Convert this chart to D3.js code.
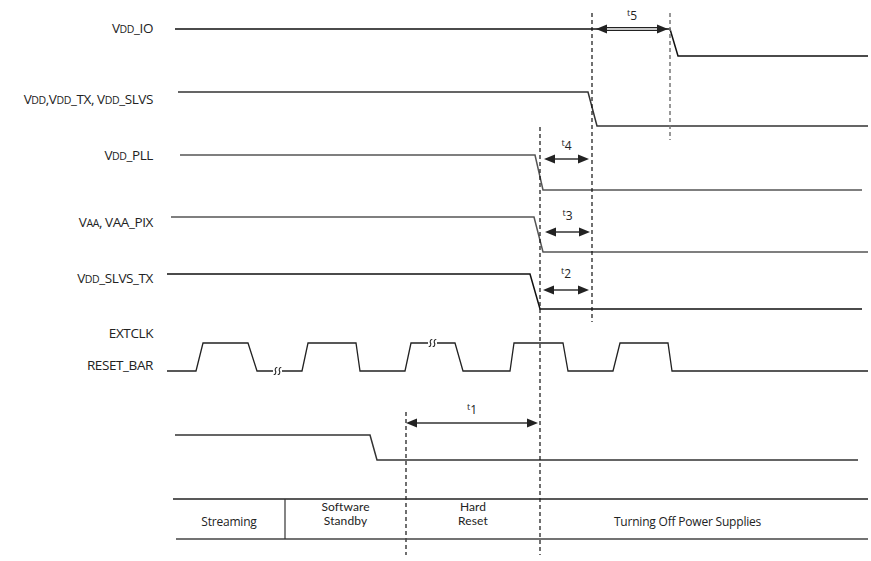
<!DOCTYPE html>
<html><head><meta charset="utf-8">
<script src="https://cdn.jsdelivr.net/npm/d3@7"></script>
<style>body{margin:0;background:#fff}svg{display:block}</style>
</head><body>
<svg id="c" width="871" height="561"></svg>
<script>
// ---- data (time units) ----
const signalNames = [["V","DD","_IO"],["V","DD",",V","DD","_TX, V","DD","_SLVS"],["V","DD","_PLL"],["V","AA",", VAA_PIX"],["V","DD","_SLVS_TX"]];
const signalStart = [8, 11, 13, 4, 0];
const fallStart   = [503, 421, 368, 367, 363];
const fallEnd     = [511, 430, 376, 376, 373];
const signalEnd   = [701, 701, 695, 701, 695];
const clockT = [0,29,36,81,90,106,"B",115,135,141,189,193,238,244,261,"B",270,288,296,343,347,396,401,446,453,501,505,701];
const clockL = [0,0,1,1,0,0,"B",0,0,1,1,0,0,1,1,"B",1,1,0,0,1,1,0,0,1,1,0,0];
const resetT = [8, 203, 210, 691];
const resetL = [1, 1, 0, 0];
const markerT = [239, 373, 425, 503];
const arrows = [{n:"1",a:239,b:371},{n:"2",a:376,b:422},{n:"3",a:378,b:423},{n:"4",a:377,b:422},{n:"5",a:429,b:501}];
const phaseNames = [["Streaming"],["Software","Standby"],["Hard","Reset"],["Turning Off Power Supplies"]];
const phaseBounds = [6, 118, 239, 373, 668];

// ---- layout ----
const svg = d3.select("#c");
const x = d3.scaleLinear().domain([0,700]).range([167,867]);
const rowHigh = [29, 92, 155, 217, 274];
const rowLow  = [56, 126, 190, 252, 309];
const rowLabelY = [33, 104, 160, 227, 283];
const rowColor = ["#111","#333","#555","#555","#111"];
const font = "'Open Sans', sans-serif";
const labSize = 13.5, labSmall = 10.5;

const line = d3.line().x(d=>x(d[0])).y(d=>d[1]);

signalNames.forEach((parts,i)=>{
  const y = d3.scaleLinear().domain([0,1]).range([rowLow[i], rowHigh[i]]);
  const pts = [[signalStart[i],1],[fallStart[i],1],[fallEnd[i],0],[signalEnd[i],0]].map(p=>[p[0],y(p[1])]);
  svg.append("path").attr("d",line(pts)).attr("fill","none").attr("stroke",rowColor[i]).attr("stroke-width",1.5);
  const t = svg.append("text").attr("x",153).attr("y",rowLabelY[i]).attr("text-anchor","end")
    .attr("font-family",font).attr("font-size",labSize).attr("fill","#222").attr("letter-spacing",-0.4);
  parts.forEach(p=>{
    const small = (p==="DD"||p==="AA");
    t.append("tspan").attr("font-size", small?labSmall:labSize).text(p);
  });
});

// other labels
svg.append("text").attr("x",153).attr("y",338).attr("text-anchor","end").attr("font-family",font).attr("font-size",labSize).attr("letter-spacing",-0.4).attr("fill","#222").text("EXTCLK");
svg.append("text").attr("x",153).attr("y",370).attr("text-anchor","end").attr("font-family",font).attr("font-size",labSize).attr("letter-spacing",-0.4).attr("fill","#222").text("RESET_BAR");

// clock
const yc = d3.scaleLinear().domain([0,1]).range([371,343]);
let seg = [];
const segs = [];
clockT.forEach((t,i)=>{
  if (t==="B") { segs.push(seg); seg=[]; return; }
  seg.push([t, yc(clockL[i])]);
});
segs.push(seg);
segs.forEach(s=>svg.append("path").attr("d",line(s)).attr("fill","none").attr("stroke","#222").attr("stroke-width",1.3));
// break marks (small "ss")
const breaks = [];
clockT.forEach((t,i)=>{ if(t==="B") breaks.push([(clockT[i-1]+clockT[i+1])/2, yc(clockL[i-1])]); });
breaks.forEach(b=>{
  const cx = x(b[0]), cy=b[1];
  [-2,2].forEach(dx=>{
    const sx = cx+dx;
    svg.append("path").attr("d",`M${sx-1.8},${cy+3.5} C${sx+0.5},${cy+4} ${sx+0.5},${cy+0.5} ${sx},${cy} C${sx-0.5},${cy-0.5} ${sx-0.5},${cy-4} ${sx+1.8},${cy-3.5}`)
      .attr("fill","none").attr("stroke","#222").attr("stroke-width",1.1);
  });
});

// reset bar
const yr = d3.scaleLinear().domain([0,1]).range([460,435]);
svg.append("path").attr("d",line(resetT.map((t,i)=>[t,yr(resetL[i])]))).attr("fill","none").attr("stroke","#333").attr("stroke-width",1.5);

// dashed markers
const markerY = [[412,555],[127,555],[13,322],[13,140]];
markerT.forEach((t,i)=>{
  svg.append("line").attr("x1",x(t)).attr("x2",x(t)).attr("y1",markerY[i][0]).attr("y2",markerY[i][1])
    .attr("stroke", i===3?"#777":"#111").attr("stroke-width", i===3?1.5:1.2).attr("stroke-dasharray","4,3");
});

// arrows
const arrowY = [423, 290, 232, 159, 29];
const arrowLabY = [414, 278, 220, 150, 20];
function head(px, py, dir){
  svg.append("path").attr("d",`M${px},${py} L${px-dir*11},${py-4.5} L${px-dir*11},${py+4.5} Z`).attr("fill","#222");
}
arrows.forEach((a,i)=>{
  const x1=x(a.a), x2=x(a.b), y=arrowY[i];
  if (a.n==="5") {
    svg.append("line").attr("x1",x1+5).attr("x2",x2-5).attr("y1",y).attr("y2",y).attr("stroke","#222").attr("stroke-width",4);
    svg.append("line").attr("x1",x1+8).attr("x2",x2-8).attr("y1",y).attr("y2",y).attr("stroke","#fff").attr("stroke-width",1.4);
  } else {
    svg.append("line").attr("x1",x1+5).attr("x2",x2-5).attr("y1",y).attr("y2",y).attr("stroke","#333").attr("stroke-width",1.3);
  }
  head(x1,y,-1); head(x2,y,1);
  const t = svg.append("text").attr("x",(x1+x2)/2).attr("y",arrowLabY[i]).attr("text-anchor","middle").attr("font-family",font).attr("fill","#222");
  t.append("tspan").attr("font-size",9).attr("dy",-4).text("t");
  t.append("tspan").attr("font-size",12).attr("dy",4).text(a.n);
});

// phase table
svg.append("line").attr("x1",x(6)).attr("x2",x(701)).attr("y1",499).attr("y2",499).attr("stroke","#222").attr("stroke-width",1.3);
svg.append("line").attr("x1",x(9)).attr("x2",x(701)).attr("y1",539).attr("y2",539).attr("stroke","#444").attr("stroke-width",1.3);
svg.append("line").attr("x1",x(phaseBounds[1])).attr("x2",x(phaseBounds[1])).attr("y1",499).attr("y2",539).attr("stroke","#333").attr("stroke-width",1.2);
phaseNames.forEach((p,i)=>{
  const cx = (x(phaseBounds[i])+x(phaseBounds[i+1]))/2;
  const two = p.length > 1;
  const t = svg.append("text").attr("x",cx).attr("y", two ? 510.5 : 526).attr("text-anchor","middle")
    .attr("font-family", two ? "Lato, sans-serif" : font).attr("font-size", two ? 12 : 12)
    .attr("letter-spacing", two ? 0.1 : -0.2).attr("fill","#222");
  p.forEach((s,j)=>{
    t.append("tspan").attr("x",cx).attr("dy", j===0?0:14.5).text(s);
  });
});
</script>
</body></html>
